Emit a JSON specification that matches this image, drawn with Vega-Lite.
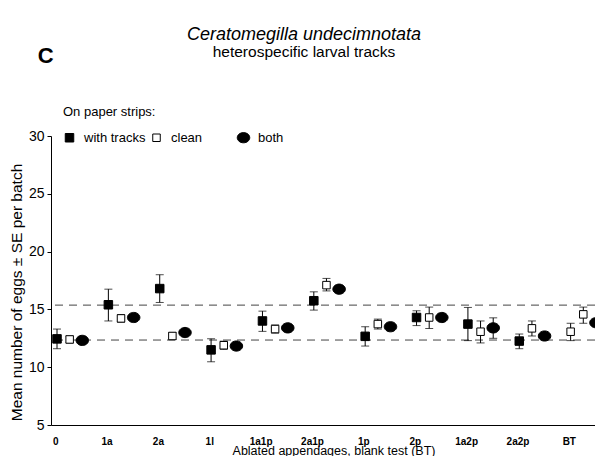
{
  "$schema": "https://vega.github.io/schema/vega-lite/v6.json",
  "autosize": "none",
  "width": 544,
  "height": 289,
  "padding": {"left": 51, "top": 136, "right": 0, "bottom": 31},
  "background": "white",
  "config": {
    "font": "Liberation Sans",
    "view": {"stroke": null},
    "axis": {"labelColor": "black", "titleColor": "black", "domainColor": "black", "tickColor": "black", "grid": false},
    "legend": {
      "orient": "none",
      "legendX": 12,
      "legendY": -30,
      "direction": "horizontal",
      "columns": 3,
      "gridAlign": "all",
      "columnPadding": 2,
      "labelOffset": 8,
      "labelFont": "Liberation Sans",
      "labelFontSize": 13,
      "labelColor": "black",
      "titleFont": "Liberation Sans",
      "titleFontSize": 13,
      "titleFontWeight": "normal",
      "titleColor": "black",
      "titlePadding": 12,
      "symbolSize": 100,
      "symbolStrokeColor": "black",
      "symbolStrokeWidth": 1
    }
  },
  "title": {
    "text": "Ceratomegilla undecimnotata",
    "subtitle": "heterospecific larval tracks",
    "font": "Liberation Sans",
    "fontSize": 18,
    "fontStyle": "italic",
    "fontWeight": "normal",
    "color": "black",
    "subtitleFont": "Liberation Sans",
    "subtitleFontSize": 15.5,
    "subtitleColor": "black",
    "subtitlePadding": 1,
    "anchor": "middle",
    "frame": "group",
    "dx": -19,
    "offset": -15
  },
  "datasets": {
    "main": [
      {"app": "0", "strip": "A", "kind": "with tracks", "mean": 12.45, "lo": 11.6, "hi": 13.3},
      {"app": "0", "strip": "B", "kind": "clean", "mean": 12.4, "lo": 12.1, "hi": 12.7},
      {"app": "0", "strip": "Both", "kind": "both", "mean": 12.32, "lo": 12.1, "hi": 12.55},
      {"app": "1a", "strip": "A", "kind": "with tracks", "mean": 15.4, "lo": 14.0, "hi": 16.75},
      {"app": "1a", "strip": "B", "kind": "clean", "mean": 14.22, "lo": 13.9, "hi": 14.55},
      {"app": "1a", "strip": "Both", "kind": "both", "mean": 14.3, "lo": 14.1, "hi": 14.5},
      {"app": "2a", "strip": "A", "kind": "with tracks", "mean": 16.8, "lo": 15.6, "hi": 18.0},
      {"app": "2a", "strip": "B", "kind": "clean", "mean": 12.7, "lo": 12.4, "hi": 13.0},
      {"app": "2a", "strip": "Both", "kind": "both", "mean": 13.0, "lo": 12.8, "hi": 13.2},
      {"app": "1l", "strip": "A", "kind": "with tracks", "mean": 11.5, "lo": 10.47, "hi": 12.46},
      {"app": "1l", "strip": "B", "kind": "clean", "mean": 11.9, "lo": 11.55, "hi": 12.25},
      {"app": "1l", "strip": "Both", "kind": "both", "mean": 11.83, "lo": 11.6, "hi": 12.05},
      {"app": "1a1p", "strip": "A", "kind": "with tracks", "mean": 14.0, "lo": 13.1, "hi": 14.85},
      {"app": "1a1p", "strip": "B", "kind": "clean", "mean": 13.3, "lo": 12.95, "hi": 13.65},
      {"app": "1a1p", "strip": "Both", "kind": "both", "mean": 13.4, "lo": 13.2, "hi": 13.6},
      {"app": "2a1p", "strip": "A", "kind": "with tracks", "mean": 15.75, "lo": 14.94, "hi": 16.52},
      {"app": "2a1p", "strip": "B", "kind": "clean", "mean": 17.1, "lo": 16.6, "hi": 17.68},
      {"app": "2a1p", "strip": "Both", "kind": "both", "mean": 16.75, "lo": 16.5, "hi": 17.0},
      {"app": "1p", "strip": "A", "kind": "with tracks", "mean": 12.67, "lo": 11.83, "hi": 13.5},
      {"app": "1p", "strip": "B", "kind": "clean", "mean": 13.73, "lo": 13.3, "hi": 14.16},
      {"app": "1p", "strip": "Both", "kind": "both", "mean": 13.5, "lo": 13.3, "hi": 13.7},
      {"app": "2p", "strip": "A", "kind": "with tracks", "mean": 14.3, "lo": 13.6, "hi": 14.88},
      {"app": "2p", "strip": "B", "kind": "clean", "mean": 14.3, "lo": 13.35, "hi": 15.2},
      {"app": "2p", "strip": "Both", "kind": "both", "mean": 14.3, "lo": 14.0, "hi": 14.6},
      {"app": "1a2p", "strip": "A", "kind": "with tracks", "mean": 13.73, "lo": 12.3, "hi": 15.17},
      {"app": "1a2p", "strip": "B", "kind": "clean", "mean": 13.07, "lo": 12.1, "hi": 14.0},
      {"app": "1a2p", "strip": "Both", "kind": "both", "mean": 13.4, "lo": 12.5, "hi": 14.27},
      {"app": "2a2p", "strip": "A", "kind": "with tracks", "mean": 12.26, "lo": 11.6, "hi": 12.87},
      {"app": "2a2p", "strip": "B", "kind": "clean", "mean": 13.36, "lo": 12.7, "hi": 14.0},
      {"app": "2a2p", "strip": "Both", "kind": "both", "mean": 12.7, "lo": 12.5, "hi": 12.9},
      {"app": "BT", "strip": "A", "kind": "clean", "mean": 13.07, "lo": 12.3, "hi": 13.8},
      {"app": "BT", "strip": "B", "kind": "clean", "mean": 14.57, "lo": 13.8, "hi": 15.2},
      {"app": "BT", "strip": "Both", "kind": "both", "mean": 13.85, "lo": 13.6, "hi": 14.1}
    ],
    "refs": [{"level": 15.37}, {"level": 12.35}],
    "panel": [{"label": "C"}]
  },
  "encoding": {
    "x": {
      "field": "app",
      "type": "nominal",
      "sort": ["0", "1a", "2a", "1l", "1a1p", "2a1p", "1p", "2p", "1a2p", "2a2p", "BT"],
      "scale": {"domain": ["0", "1a", "2a", "1l", "1a1p", "2a1p", "1p", "2p", "1a2p", "2a2p", "BT"], "range": [0, 565], "paddingInner": 0, "paddingOuter": 0},
      "axis": {
        "title": "Ablated appendages, blank test (BT)",
        "labelAngle": 0,
        "ticks": false,
        "labelFontWeight": "bold",
        "labelFontSize": 10,
        "labelPadding": 11,
        "labelOffset": -21,
        "titleFontSize": 12.5,
        "titleFontWeight": "normal",
        "titlePadding": -2
      }
    },
    "y": {
      "type": "quantitative",
      "scale": {"domain": [5, 30], "nice": false, "zero": false},
      "axis": {
        "title": "Mean number of  eggs ± SE per batch",
        "values": [5, 10, 15, 20, 25, 30],
        "tickSize": 4,
        "labelFontSize": 14,
        "labelPadding": 3,
        "titleFontSize": 15.5,
        "titleFontWeight": "normal",
        "titlePadding": 4,
        "titleY": 156
      }
    }
  },
  "layer": [
    {
      "data": {"name": "refs"},
      "mark": {"type": "rule", "stroke": "#444444", "strokeDash": [8, 6], "strokeWidth": 1},
      "encoding": {"x": null, "y": {"field": "level", "type": "quantitative"}}
    },
    {
      "data": {"name": "main"},
      "mark": {"type": "rule", "stroke": "black", "strokeWidth": 1},
      "encoding": {
        "xOffset": {"field": "strip", "type": "nominal", "scale": {"type": "point", "domain": ["A", "B", "Both"], "range": [6, 31.3], "padding": 0}},
        "y": {"field": "lo", "type": "quantitative"},
        "y2": {"field": "hi"}
      }
    },
    {
      "data": {"name": "main"},
      "mark": {"type": "tick", "color": "black", "size": 8, "thickness": 1},
      "encoding": {
        "xOffset": {"field": "strip", "type": "nominal"},
        "y": {"field": "lo", "type": "quantitative"}
      }
    },
    {
      "data": {"name": "main"},
      "mark": {"type": "tick", "color": "black", "size": 8, "thickness": 1},
      "encoding": {
        "xOffset": {"field": "strip", "type": "nominal"},
        "y": {"field": "hi", "type": "quantitative"}
      }
    },
    {
      "data": {"name": "main"},
      "mark": {"type": "point", "filled": true, "size": 100, "strokeWidth": 1, "opacity": 1, "fillOpacity": 1},
      "encoding": {
        "xOffset": {"field": "strip", "type": "nominal"},
        "y": {"field": "mean", "type": "quantitative"},
        "shape": {"field": "kind", "type": "nominal", "scale": {"domain": ["with tracks", "clean", "both"], "range": ["M-0.85,-0.85H0.85V0.85H-0.85Z", "M-0.75,-0.75H0.75V0.75H-0.75Z", "M-1.25,0A1.25,1.02,0,1,0,1.25,0A1.25,1.02,0,1,0,-1.25,0Z"]}, "legend": {"title": "On paper strips:"}},
        "fill": {"field": "kind", "type": "nominal", "scale": {"domain": ["with tracks", "clean", "both"], "range": ["black", "white", "black"]}, "legend": {"title": "On paper strips:"}},
        "stroke": {"field": "kind", "type": "nominal", "scale": {"domain": ["with tracks", "clean", "both"], "range": ["black", "black", "black"]}, "legend": {"title": "On paper strips:"}}
      }
    },
    {
      "data": {"name": "panel"},
      "mark": {"type": "text", "font": "Liberation Sans", "fontSize": 22, "fontWeight": "bold", "color": "black", "dx": -31, "align": "center", "baseline": "middle"},
      "encoding": {
        "x": {"datum": "0"},
        "y": {"datum": 36.9},
        "text": {"field": "label"}
      }
    }
  ]
}
